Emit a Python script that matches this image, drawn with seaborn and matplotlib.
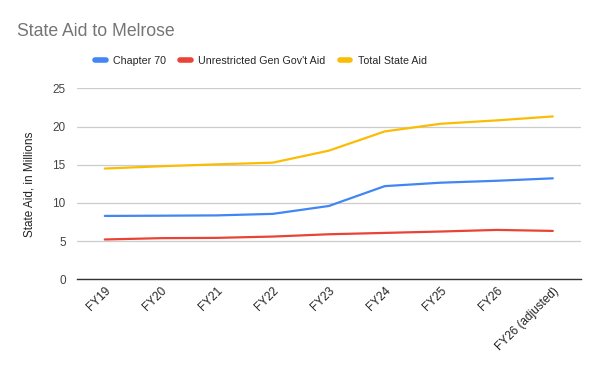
import matplotlib
matplotlib.use("Agg")
import matplotlib.pyplot as plt
import seaborn as sns
import pandas as pd

# data (millions)
years = ["FY19", "FY20", "FY21", "FY22", "FY23", "FY24", "FY25", "FY26", "FY26 (adjusted)"]
chapter_70 = [8.3, 8.33, 8.37, 8.57, 9.6, 12.2, 12.65, 12.9, 13.22]
unrestricted = [5.22, 5.39, 5.43, 5.6, 5.9, 6.08, 6.26, 6.47, 6.34]
total_aid = [14.5, 14.8, 15.05, 15.27, 16.84, 19.36, 20.36, 20.8, 21.32]

series = ["Chapter 70", "Unrestricted Gen Gov't Aid", "Total State Aid"]
colors = ["#4285F4", "#EA4335", "#FBBC04"]

df = pd.DataFrame({
    "Year": years * 3,
    "Aid": chapter_70 + unrestricted + total_aid,
    "Series": [series[0]] * 9 + [series[1]] * 9 + [series[2]] * 9,
})
df["x"] = list(range(len(years))) * 3

sns.set_style("white")
plt.rcParams["font.family"] = ["Liberation Sans", "DejaVu Sans"]

fig = plt.figure(figsize=(6, 3.71), dpi=100)
ax = fig.add_axes([0.128, 0.247, 0.84, 0.515])

sns.lineplot(data=df, x="x", y="Aid", hue="Series", palette=colors,
             linewidth=1.6, ax=ax, legend=False)

ax.set_xlim(-0.5, len(years) - 0.5)
ax.set_ylim(0, 25)
ax.set_yticks([0, 5, 10, 15, 20, 25])
ax.set_xticks(range(len(years)))
ax.set_xticklabels(years, rotation=45, ha="right", rotation_mode="anchor",
                   fontsize=8.5, color="#222222")
ax.tick_params(axis="y", labelsize=8.5, labelcolor="#444444", length=0, pad=8)
ax.tick_params(axis="x", length=0, pad=4)
ax.grid(axis="y", color="#cccccc", linewidth=0.9)
ax.set_axisbelow(True)
for s in ["top", "right", "left"]:
    ax.spines[s].set_visible(False)
ax.spines["bottom"].set_color("#333333")
ax.spines["bottom"].set_linewidth(1.0)
ax.set_xlabel("")
ax.set_ylabel("State Aid, in Millions", fontsize=8.5, color="#222222", labelpad=12)

# legend
handles = [plt.Line2D([], [], color=c, linewidth=4) for c in colors]
fig.legend(handles, series, loc="center", bbox_to_anchor=(0.435, 0.835), ncol=3,
           frameon=False, fontsize=7.7, handlelength=1.0, handletextpad=0.7,
           columnspacing=1.3)

fig.text(0.028, 0.915, "State Aid to Melrose", fontsize=12.7, color="#757575",
         va="center")

fig.savefig("out.png", dpi=100)
